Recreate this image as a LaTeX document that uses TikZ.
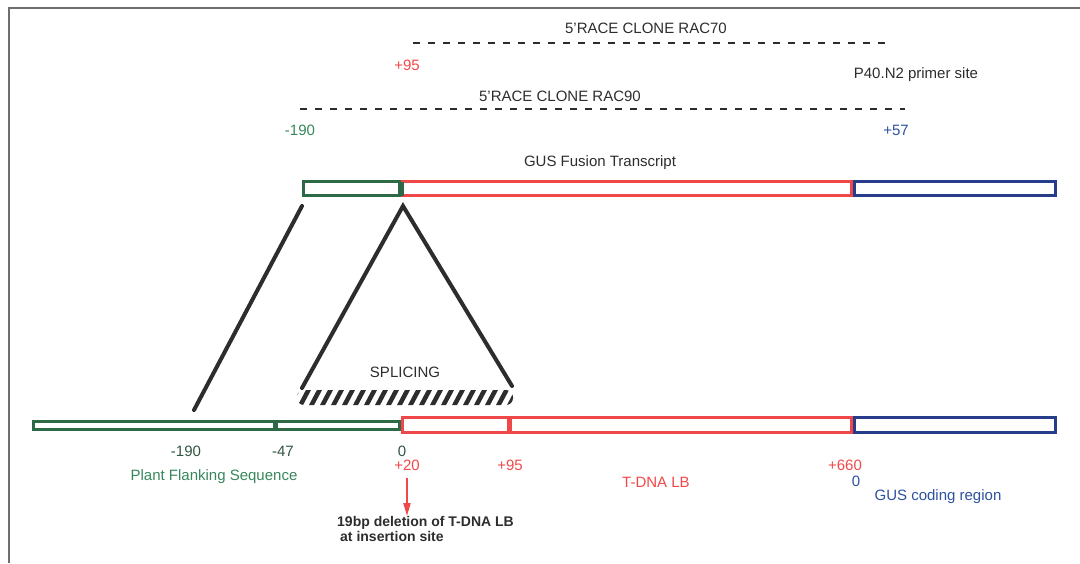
\documentclass[tikz,border=0pt]{standalone}
\usepackage{fontspec}
\setmainfont{Liberation Sans}
\usetikzlibrary{arrows.meta}
\definecolor{gbar}{RGB}{45,105,70}
\definecolor{gtxt}{RGB}{55,135,90}
\definecolor{gdark}{RGB}{50,85,65}
\definecolor{rbar}{RGB}{240,72,72}
\definecolor{bbar}{RGB}{40,60,140}
\definecolor{btxt}{RGB}{45,80,160}
\definecolor{ink}{RGB}{45,45,45}
\definecolor{frame}{RGB}{110,110,110}
\tikzset{
  bar/.style={draw, line width=3pt, fill=white, inner sep=0pt, outer sep=0pt},
  lbl/.style={inner sep=0pt, font=\fontsize{15}{17}\selectfont, text=ink},
  conn/.style={draw=ink, line width=4pt},
  dashline/.style={draw=ink, line width=2pt, dash pattern=on 7pt off 8pt},
}
\begin{document}
\begin{tikzpicture}[x=1pt,y=-1pt]
\useasboundingbox (0,0) rectangle (1080,563);
% frame
\draw[frame, line width=2pt] (9,563) -- (9,8) -- (1080,8);

% top labels and dashed clones
\node[lbl] (rac70) at (646,28) {5'RACE CLONE RAC70};
\coordinate (d70a) at (413,43);
\coordinate (d70b) at (890,43);
\draw[dashline] (d70a) -- (d70b);
\node[lbl, text=rbar] (p95top) at (407,65) {+95};
\node[lbl] (primer) at (916,75) {P40.N2 primer site};
\node[lbl] (rac90) at (560,96) {5'RACE CLONE RAC90};
\coordinate (d90a) at (300,109);
\coordinate (d90b) at (905,109);
\draw[dashline] (d90a) -- (d90b);
\node[lbl, text=gtxt] (m190top) at (300,130) {-190};
\node[lbl, text=btxt] (p57) at (896,130) {+57};
\node[lbl] (gusft) at (600,163) {GUS Fusion Transcript};

% top transcript bar
\node[bar, draw=gbar, minimum width=96pt, minimum height=14pt] (tg) at (351.5,188.5) {};
\node[bar, draw=rbar, minimum width=449pt, minimum height=14pt] (tr) at (627,188.5) {};
\node[bar, draw=bbar, minimum width=201pt, minimum height=14pt] (tb) at (955,188.5) {};
\draw[gbar, line width=3pt] (tr.north west) -- (tr.south west);

% bottom genomic bar
\node[bar, draw=gbar, minimum width=366pt, minimum height=8pt] (bg) at (216.5,425) {};
\node[bar, draw=rbar, minimum width=449pt, minimum height=15pt] (br) at (627,425) {};
\node[bar, draw=bbar, minimum width=201pt, minimum height=15pt] (bb) at (955,425) {};
\fill[gbar] (273,420) rectangle (278,430);
\coordinate (d95t) at (509,417);
\coordinate (d95b) at (509,433);
\draw[rbar, line width=5pt] (d95t) -- (d95b);

% connectors
\coordinate (c1t) at (302,206);
\coordinate (c1b) at (194,410);
\coordinate (apex) at (403,206);
\coordinate (sl) at (302,388);
\coordinate (sr) at (512,386);
\draw[conn, line cap=round] (c1t) -- (c1b);
\draw[conn, line cap=round, line join=miter] (sl) -- (apex) -- (sr);

% splicing
\node[lbl] (splicing) at (405,372) {SPLICING};
\begin{scope}
  \clip[rounded corners=7pt] (297,390) rectangle (513,405);
  \foreach \i in {0,...,20} {
    \draw[ink, line width=4.5pt] ({289+\i*11},406) -- ({298+\i*11},389);
  }
\end{scope}

% bottom labels
\node[lbl, text=gdark] (m190) at (186,451) {-190};
\node[lbl, text=gdark] (m47) at (283,451) {-47};
\node[lbl, text=gdark] (zero) at (402,451) {0};
\node[lbl, text=rbar] (p20) at (407,465) {+20};
\node[lbl, text=rbar] (p95) at (510,465) {+95};
\node[lbl, text=rbar] (p660) at (845,465) {+660};
\node[lbl, text=btxt] (zeroB) at (856,481) {0};
\node[lbl, text=rbar] (tdna) at (656,482) {T-DNA LB};
\node[lbl, text=btxt] (gcr) at (938,497) {GUS coding region};
\node[lbl, text=gtxt] (pfs) at (214,477) {Plant Flanking Sequence};
\node[lbl, anchor=north west, align=left, font=\fontsize{14}{15}\selectfont\bfseries] (note) at (337,516) {19bp deletion of T-DNA LB\\ \hspace{3pt}at insertion site};
\coordinate (arrS) at (p20.south |- 0,478);
\draw[rbar, line width=2pt, -{Triangle[length=13pt,width=7pt]}] (arrS) -- (arrS |- note.north);
\end{tikzpicture}
\end{document}
